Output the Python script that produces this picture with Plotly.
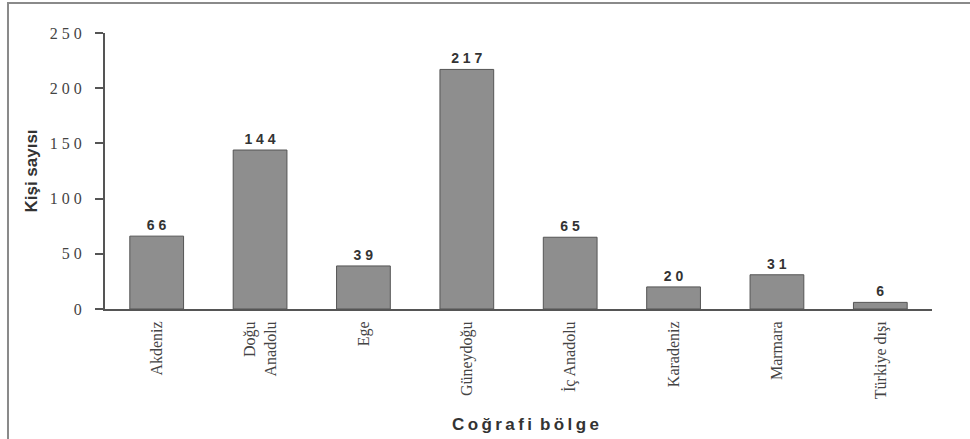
import plotly.graph_objects as go

regions = ["Akdeniz", "Doğu<br>Anadolu", "Ege", "Güneydoğu", "İç Anadolu",
           "Karadeniz", "Marmara", "Türkiye dışı"]
people = [66, 144, 39, 217, 65, 20, 31, 6]
y_ticks = [0, 50, 100, 150, 200, 250]

def spaced(v):
    return " ".join(str(v))

fig = go.Figure(
    data=[go.Bar(
        x=regions, y=people,
        marker=dict(color="#8e8e8e", line=dict(color="#555555", width=1)),
        text=[spaced(v) for v in people],
        textposition="outside",
        cliponaxis=False,
        textfont=dict(family="Liberation Sans", size=14, color="#333333", weight="bold"),
    )]
)

fig.update_layout(
    width=970, height=439,
    margin=dict(l=105, r=38, t=33, b=130, autoexpand=False),
    paper_bgcolor="white", plot_bgcolor="white",
    bargap=0.48,
    showlegend=False,
    shapes=[dict(type="rect", xref="paper", yref="paper",
                 x0=-0.1173, x1=1.2, y0=-0.7, y1=1.1087,
                 line=dict(color="#8a8a8a", width=2), layer="below")],
    annotations=[
        dict(text="C\u2009o\u2009ğ\u2009r\u2009a\u2009f\u2009i\u2009 b\u2009ö\u2009l\u2009g\u2009e",
             xref="paper", yref="paper",
             x=0.509, y=-0.42, showarrow=False, xanchor="center", yanchor="middle",
             font=dict(family="Liberation Sans", size=17, color="#333333", weight="bold")),
        dict(text="Kişi sayısı", xref="paper", yref="paper",
             x=-0.09, y=0.5, showarrow=False, textangle=-90,
             xanchor="center", yanchor="middle",
             font=dict(family="Liberation Sans", size=17, color="#333333", weight="bold")),
    ],
)

fig.update_xaxes(
    tickangle=-90,
    tickfont=dict(family="Liberation Serif", size=16, color="#444444"),
    showline=True, linecolor="#555555", linewidth=2,
    ticks="", ticklabelstandoff=4,
)
fig.update_yaxes(
    range=[0, 250],
    tickvals=y_ticks,
    ticktext=[spaced(t) for t in y_ticks],
    tickfont=dict(family="Liberation Serif", size=16, color="#444444"),
    showline=True, linecolor="#555555", linewidth=2,
    ticks="outside", ticklen=8, tickcolor="#555555", tickwidth=2,
    ticklabelstandoff=10,
    showgrid=False, zeroline=False,
)

fig.write_html("out.html", config={"displayModeBar": False},
               post_script="document.body.style.margin='0';")
